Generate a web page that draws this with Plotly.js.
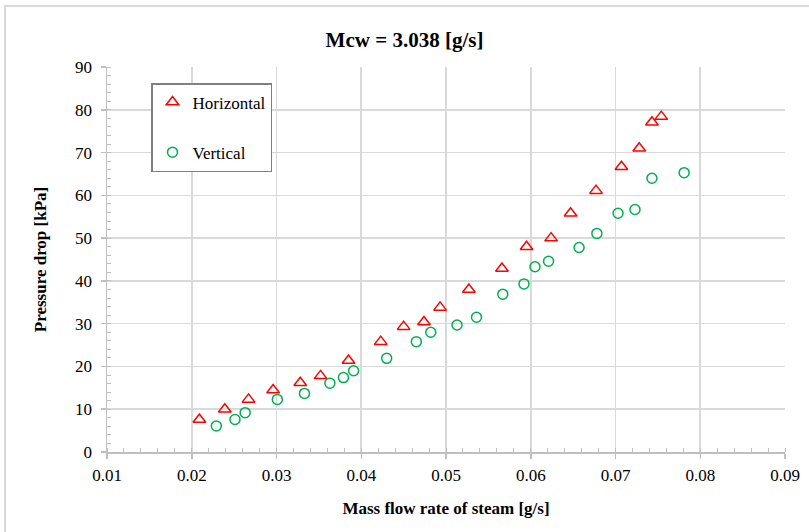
<!DOCTYPE html>
<html>
<head>
<meta charset="utf-8">
<script src="https://cdn.plot.ly/plotly-3.0.1.min.js"></script>
<style>
html,body{margin:0;padding:0;background:#fff;}
#chart{width:809px;height:532px;}
</style>
</head>
<body>
<div id="chart"></div>
<script>
// Horizontal series
const horizX = [0.0209,0.0239,0.0267,0.0296,0.0328,0.0352,0.0385,0.0423,0.0450,0.0474,0.0493,0.0527,0.0566,0.0595,0.0624,0.0647,0.0677,0.0707,0.0728,0.0743,0.0754];
const horizY = [7.6,10.0,12.3,14.5,16.2,17.8,21.4,25.8,29.3,30.4,33.8,38.0,42.9,48.0,50.0,55.8,61.1,66.7,71.0,77.1,78.4];
// Vertical series
const vertX = [0.0229,0.0251,0.0263,0.0301,0.0333,0.0363,0.0379,0.0391,0.0430,0.0465,0.0482,0.0513,0.0536,0.0567,0.0592,0.0605,0.0621,0.0657,0.0678,0.0703,0.0723,0.0743,0.0781];
const vertY = [6.1,7.6,9.2,12.3,13.7,16.1,17.4,19.0,21.9,25.8,28.0,29.7,31.5,36.9,39.3,43.3,44.6,47.8,51.1,55.8,56.7,64.0,65.3];
const xTickVals = [0.01,0.02,0.03,0.04,0.05,0.06,0.07,0.08,0.09];
const xTickText = ['0.01','0.02','0.03','0.04','0.05','0.06','0.07','0.08','0.09'];
const yTickVals = [0,10,20,30,40,50,60,70,80,90];

const FONT = '"Liberation Serif", "Times New Roman", serif';

const traces = [
  {x: horizX, y: horizY, mode:'markers', type:'scatter', name:'Horizontal', legendgroup:'h',
   marker:{symbol:'triangle-up-open', size:11, color:'#ff0000', line:{width:1.5, color:'#ff0000'}}},
  {x: vertX, y: vertY, mode:'markers', type:'scatter', name:'Vertical', legendgroup:'v',
   marker:{symbol:'circle-open', size:10, color:'#00b050', line:{width:1.5, color:'#00b050'}}}
];

const L=107, R=785, T=67, B=452;
const pw=R-L, ph=B-T;

const layout = {
  width:809, height:532,
  margin:{l:L, r:809-R, t:T, b:532-B},
  paper_bgcolor:'#ffffff', plot_bgcolor:'#ffffff',
  font:{family:FONT, color:'#000', size:17},
  title:{text:'<b>Mcw = 3.038 [g/s]</b>', font:{family:FONT, size:21, color:'#000'}, x:0.5, xanchor:'center', y:1-40/532, yanchor:'middle'},
  xaxis:{range:[0.01,0.09], tickvals:xTickVals, ticktext:xTickText,
    showgrid:true, gridcolor:'#d9d9d9', gridwidth:1.6,
    showline:true, linecolor:'#bfbfbf', linewidth:1.5,
    ticks:'outside', ticklen:5, tickcolor:'#bfbfbf', tickwidth:1.5, ticklabelstandoff:2,
    minor:{dtick:0.002, ticks:'inside', ticklen:4, tickcolor:'#bfbfbf', tickwidth:1, showgrid:false},
    zeroline:false, tickfont:{family:FONT, size:17, color:'#000'},
    title:{text:'<b>Mass flow rate of steam [g/s]</b>', font:{family:FONT, size:17, color:'#000'}, standoff:18}},
  yaxis:{range:[0,90], tickvals:yTickVals,
    showgrid:true, gridcolor:'#d9d9d9', gridwidth:1.6,
    showline:true, linecolor:'#bfbfbf', linewidth:1.5,
    ticks:'outside', ticklen:5, tickcolor:'#bfbfbf', tickwidth:1.5, ticklabelstandoff:5,
    minor:{dtick:2, ticks:'inside', ticklen:4, tickcolor:'#bfbfbf', tickwidth:1, showgrid:false},
    zeroline:false, tickfont:{family:FONT, size:17, color:'#000'},
    title:{text:'<b>Pressure drop [kPa]</b>', font:{family:FONT, size:17, color:'#000'}, standoff:24}},
  showlegend:true,
  legend:{x:(151-L)/pw, y:(B-83)/ph, xanchor:'left', yanchor:'top',
    bgcolor:'#ffffff', bordercolor:'#808080', borderwidth:1.5,
    font:{family:FONT, size:17, color:'#000'}, traceorder:'grouped', tracegroupgap:25,
    itemwidth:30},
  shapes:[
    {type:'rect', xref:'paper', yref:'paper', x0:(5-L)/pw, x1:(815-L)/pw, y0:(B-540)/ph, y1:(B-6)/ph,
     line:{color:'#d9d9d9', width:2}, fillcolor:'rgba(0,0,0,0)', layer:'below'}
  ]
};

Plotly.newPlot('chart', traces, layout, {displayModeBar:false, staticPlot:true});
</script>
</body>
</html>
